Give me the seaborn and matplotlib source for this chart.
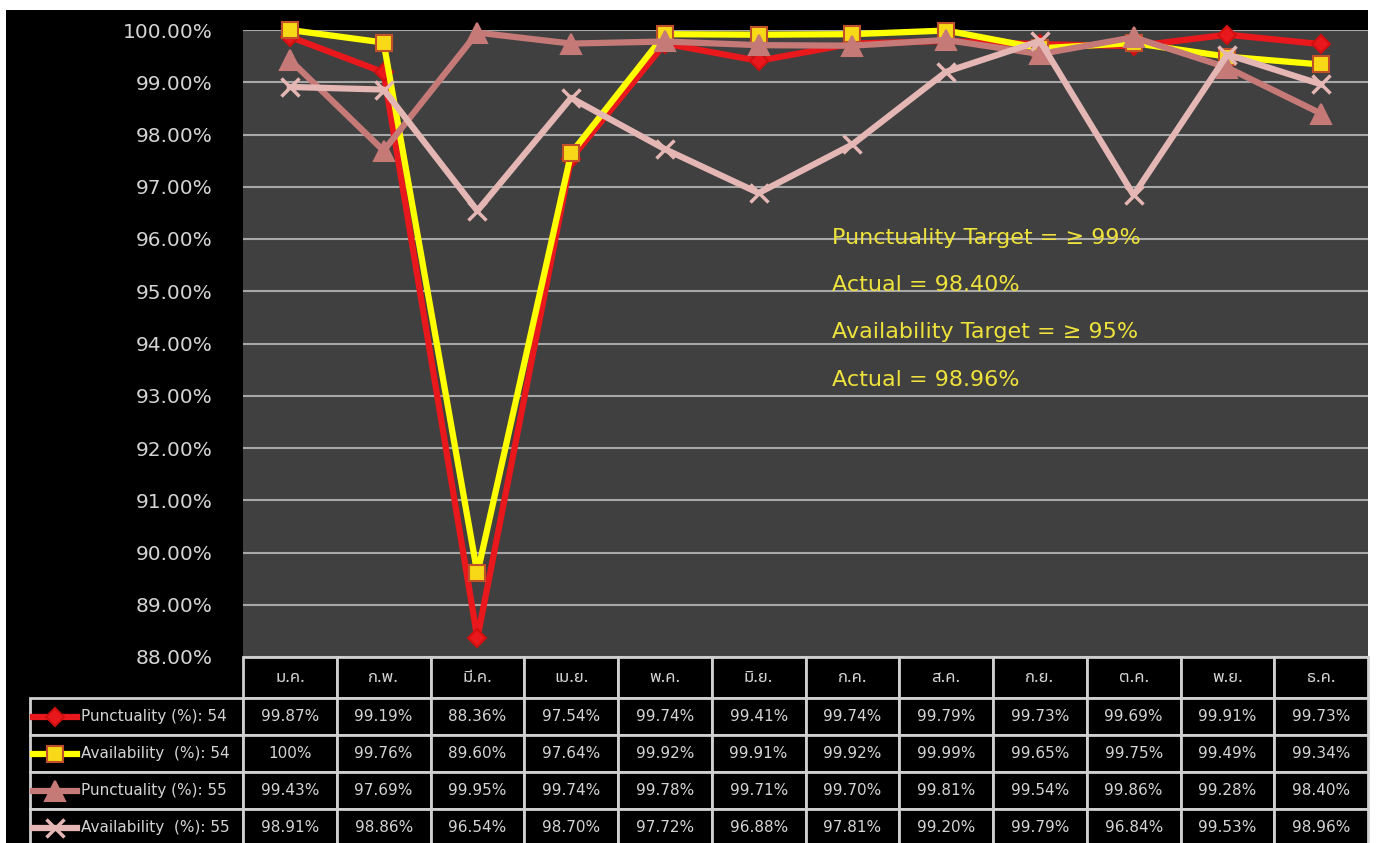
import matplotlib
matplotlib.use('Agg')
import numpy as np
import pandas as pd
import matplotlib.pyplot as plt
import seaborn as sns
from matplotlib.lines import Line2D
from matplotlib.patches import Rectangle

months = ['ม.ค.', 'ก.พ.', 'มี.ค.', 'เม.ย.', 'พ.ค.', 'มิ.ย.',
          'ก.ค.', 'ส.ค.', 'ก.ย.', 'ต.ค.', 'พ.ย.', 'ธ.ค.']
punct_54 = [99.87, 99.19, 88.36, 97.54, 99.74, 99.41, 99.74, 99.79, 99.73, 99.69, 99.91, 99.73]
avail_54 = [100.00, 99.76, 89.60, 97.64, 99.92, 99.91, 99.92, 99.99, 99.65, 99.75, 99.49, 99.34]
punct_55 = [99.43, 97.69, 99.95, 99.74, 99.78, 99.71, 99.70, 99.81, 99.54, 99.86, 99.28, 98.40]
avail_55 = [98.91, 98.86, 96.54, 98.70, 97.72, 96.88, 97.81, 99.20, 99.79, 96.84, 99.53, 98.96]
series_names = ['Punctuality (%): 54', 'Availability  (%): 54',
                'Punctuality (%): 55', 'Availability  (%): 55']
notes = ['Punctuality Target = ≥ 99%', 'Actual = 98.40%',
         'Availability Target = ≥ 95%', 'Actual = 98.96%']

series_vals = [punct_54, avail_54, punct_55, avail_55]
line_colors = ['#e8181c', '#ffff00', '#c57a78', '#e4b6b4']
marker_face = ['#e8181c', '#f7d917', '#c57a78', '#e4b6b4']
marker_edge = ['#d01010', '#c0502a', '#c57a78', '#e4b6b4']
markers = ['D', 's', '^', 'x']
msizes = [9, 12, 14, 13]

df = pd.DataFrame({
    'month': months * 4,
    'value': sum(series_vals, []),
    'series': np.repeat(series_names, 12),
})

plt.rcParams['font.family'] = ['DejaVu Sans']
thai_fonts = ['Noto Sans Thai', 'Garuda', 'Loma', 'Tlwg Typo', 'Norasi', 'DejaVu Sans']

fig = plt.figure(figsize=(13.76, 8.43), dpi=100, facecolor='white')
fig.add_artist(Rectangle((6 / 1376, 0), 1362 / 1376, 833 / 843, transform=fig.transFigure,
                         facecolor='black', edgecolor='none', zorder=0))

ax = fig.add_axes([243 / 1376, 1 - 657 / 843, 1125 / 1376, 627 / 843])
ax.set_facecolor('#404040')

for i, name in enumerate(series_names):
    sub = df[df['series'] == name]
    sns.lineplot(data=sub, x='month', y='value', ax=ax, sort=False, legend=False,
                 color=line_colors[i], linewidth=4.5, marker=markers[i],
                 markersize=msizes[i], markerfacecolor=marker_face[i],
                 markeredgecolor=marker_edge[i], markeredgewidth=1.5 if i != 3 else 2.5,
                 clip_on=False, zorder=3 + i)

ax.set_xlim(-0.5, 11.5)
ax.set_ylim(88, 100)
yt = np.arange(88, 100.01, 1)
ax.set_yticks(yt)
ax.set_yticklabels([f'{v:.2f}%' for v in yt], color='#d4d4d4', fontsize=14.5)
ax.tick_params(axis='y', length=0, pad=22)
ax.tick_params(axis='x', length=0, labelbottom=False)
ax.set_xlabel('')
ax.set_ylabel('')
ax.yaxis.grid(True, color='#a8a8a8', linewidth=1.5)
ax.xaxis.grid(False)
ax.set_axisbelow(True)
for s in ax.spines.values():
    s.set_visible(False)

note_y = [0.668, 0.593, 0.518, 0.442]
for t, y in zip(notes, note_y):
    ax.text(0.5236, y, t, transform=ax.transAxes, color='#eee23c', fontsize=16,
            ha='left', va='center', zorder=10)

# data table under the chart
tax = fig.add_axes([30 / 1376, 0, 1338 / 1376, 186 / 843])
tax.axis('off')

def fmt(v):
    return '100%' if v == 100 else f'{v:.2f}%'

cell_text = [[''] + months] + [[n] + [fmt(v) for v in vals]
                              for n, vals in zip(series_names, series_vals)]
tbl = tax.table(cellText=cell_text, colWidths=[213] + [93.75] * 12,
                cellLoc='center', bbox=[0, -3 / 186, 1, 189 / 186])
tbl.auto_set_font_size(False)
for (r, c), cell in tbl.get_celld().items():
    cell.set_facecolor('black')
    cell.set_edgecolor('#d0d0d0')
    cell.set_linewidth(2)
    cell.set_height(41 if r == 0 else 37)
    txt = cell.get_text()
    txt.set_color('#d4d4d4')
    txt.set_fontsize(11)
    if r == 0:
        txt.set_family(thai_fonts)
        txt.set_fontsize(12)
    if c == 0:
        txt.set_ha('left')
        cell.PAD = 0.24
    if r == 0 and c == 0:
        cell.visible_edges = ''

# legend keys in the row labels
row_y = [716.5, 753.5, 790.5, 827.5]
for i, yp in enumerate(row_y):
    yf = 1 - yp / 843
    fig.add_artist(Line2D([33 / 1376, 77 / 1376], [yf, yf], transform=fig.transFigure,
                          color=line_colors[i], linewidth=4.5, zorder=20))
    fig.add_artist(Line2D([55 / 1376], [yf], transform=fig.transFigure, linestyle='none',
                          marker=markers[i], markersize=msizes[i],
                          markerfacecolor=marker_face[i], markeredgecolor=marker_edge[i],
                          markeredgewidth=1.5 if i != 3 else 2.5, zorder=21))

fig.savefig('out.png', dpi=100, facecolor='white')
